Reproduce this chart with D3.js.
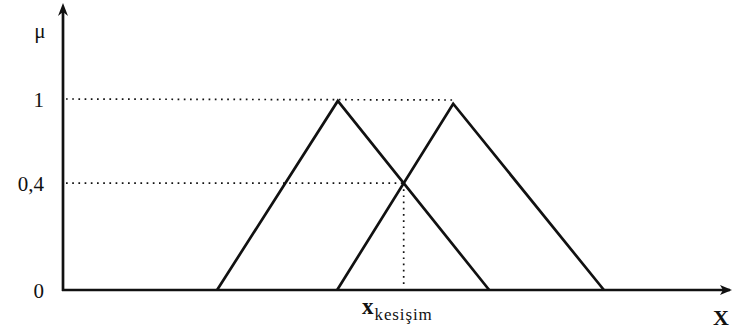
<!DOCTYPE html>
<html>
<head>
<meta charset="utf-8">
<script src="https://cdn.jsdelivr.net/npm/d3@7"></script>
<style>
  html, body { margin: 0; padding: 0; background: #fff; }
  svg { display: block; }
  text { font-family: "Liberation Serif", "DejaVu Serif", serif; fill: #111; }
</style>
</head>
<body>
<svg id="chart" width="733" height="332"></svg>
<script>
// ---- data ----
const setNames = ["A", "B"];
const setA = [2.31, 4.12, 6.39];          // left foot, peak, right foot
const setB = [4.11, 5.85, 8.11];
const peakHeights = [0.99, 0.975];
const yTickValues = [0, 0.56, 1];
const yTickLabels = ["0", "0,4", "1"];
const yAxisLabel = "μ";
const xAxisLabel = "X";
const crossLabelMain = "x";
const crossLabelSub = "kesişim";

// ---- layout ----
const svg = d3.select("#chart");
const x = d3.scaleLinear().domain([0, 10]).range([63, 730]);
const y = d3.scaleLinear().domain([0, 1]).range([290, 99]);
const ink = "#111";

// triangles
const sets = [setA, setB];
sets.forEach((s, i) => {
  const pts = [[s[0], 0], [s[1], peakHeights[i]], [s[2], 0]];
  svg.append("path")
    .attr("d", d3.line().x(d => x(d[0])).y(d => y(d[1]))(pts))
    .attr("fill", "none").attr("stroke", ink).attr("stroke-width", 2.7)
    .attr("stroke-linejoin", "miter");
});

// intersection of A's right edge and B's left edge
const mA = -peakHeights[0] / (setA[2] - setA[1]);
const mB = peakHeights[1] / (setB[1] - setB[0]);
const xi = (mB * setB[0] - mA * setA[2]) / (mB - mA);
const yi = mB * (xi - setB[0]);

// dotted guide lines
const dot = sel => sel.attr("stroke", ink).attr("stroke-width", 1.7)
  .attr("stroke-dasharray", "1.7,4.5").attr("fill", "none");
dot(svg.append("line").attr("x1", x(0) + 3).attr("x2", x(setB[1]))
  .attr("y1", y(1)).attr("y2", y(1) + 1));
dot(svg.append("line").attr("x1", x(0) + 3).attr("x2", x(xi))
  .attr("y1", y(yTickValues[1])).attr("y2", y(yTickValues[1])));
dot(svg.append("line").attr("x1", x(xi)).attr("x2", x(xi))
  .attr("y1", y(yi) + 6).attr("y2", y(0) - 4));

// axes
svg.append("line").attr("x1", x(0)).attr("x2", x(0)).attr("y1", y(0) + 1).attr("y2", 8)
  .attr("stroke", ink).attr("stroke-width", 2.7);
svg.append("line").attr("x1", x(0) - 1).attr("x2", x(10)).attr("y1", y(0)).attr("y2", y(0))
  .attr("stroke", ink).attr("stroke-width", 2.7);
// arrowheads
svg.append("path")
  .attr("d", `M${x(0)},3 L${x(0) - 5},16 L${x(0)},12 L${x(0) + 5},16 Z`)
  .attr("fill", ink);
svg.append("path")
  .attr("d", `M${x(10) + 2},${y(0)} L${x(10) - 10},${y(0) - 5} L${x(10) - 7},${y(0)} L${x(10) - 10},${y(0) + 5} Z`)
  .attr("fill", ink);

// y tick labels
svg.selectAll("text.ytick").data(yTickValues).enter().append("text")
  .attr("class", "ytick")
  .attr("x", 44).attr("y", d => y(d) + 8)
  .attr("text-anchor", "end").attr("font-size", 21)
  .text((d, i) => yTickLabels[i]);

// axis labels
svg.append("text").attr("x", 40).attr("y", 38).attr("text-anchor", "middle")
  .attr("font-size", 21).text(yAxisLabel);
svg.append("text").attr("x", 721).attr("y", 325).attr("text-anchor", "middle")
  .attr("font-size", 22).attr("font-weight", "bold")
  .attr("font-family", "Liberation Sans, Arial, sans-serif")
  .text(xAxisLabel);

// intersection label
const cl = svg.append("text").attr("x", 362).attr("y", 314).attr("font-size", 23);
cl.append("tspan").attr("font-weight", "bold").text(crossLabelMain);
cl.append("tspan").attr("font-size", 17).attr("dy", 6).attr("dx", 1)
  .attr("letter-spacing", 0.9).text(crossLabelSub);
</script>
</body>
</html>
